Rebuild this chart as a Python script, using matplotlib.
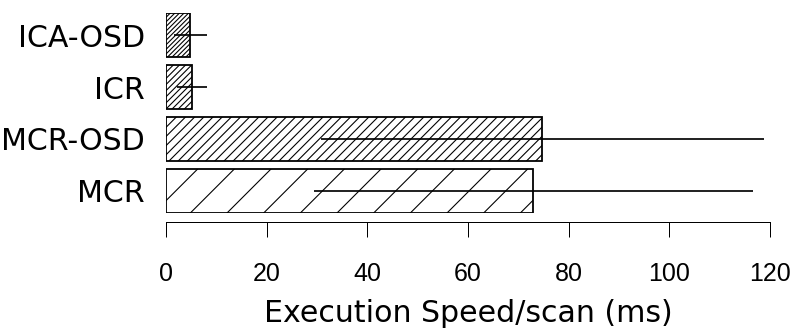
import matplotlib
matplotlib.use('Agg')
import matplotlib.pyplot as plt

# Data (bottom to top)
methods = ['MCR', 'MCR-OSD', 'ICR', 'ICA-OSD']
speed = [73.0, 74.8, 5.2, 4.8]
speed_err = [43.6, 44.0, 3.0, 3.3]
hatches = ['/', '////', '//////', '////////']
ticks = [0, 20, 40, 60, 80, 100, 120]

# dpi chosen so that a single '/' hatch is as sparse as in the original
DPI = 110


def px(p):
    # pixels -> points
    return p * 72.0 / DPI


plt.rcParams['hatch.linewidth'] = px(1.1)
plt.rcParams['font.family'] = 'DejaVu Sans'

fig = plt.figure(figsize=(797 / DPI, 330 / DPI), dpi=DPI)
ax = fig.add_axes([166 / 797, 1 - 213 / 330, (770 - 166) / 797, 200 / 330])

ypos = list(range(len(methods)))
for y, v, e, h in zip(ypos, speed, speed_err, hatches):
    ax.barh(y, v, height=0.85, color='white', edgecolor='black',
            linewidth=px(1.8), hatch=h, zorder=2)
    ax.errorbar(v, y, xerr=e, fmt='none', ecolor='black',
                elinewidth=px(1.7), capsize=0, zorder=3)

ax.set_xlim(0, 120)
ax.set_ylim(-0.425, 3.425)
ax.set_yticks(ypos)
ax.set_yticklabels(methods)
ax.set_xticks(ticks)
ax.set_xticklabels([str(t) for t in ticks])

ax.tick_params(axis='y', length=0, pad=px(21), labelsize=px(30))
ax.tick_params(axis='x', length=px(15), width=px(1), pad=px(25), direction='out',
               labelsize=px(25), labelfontfamily='Liberation Sans')

for s in ['top', 'right', 'left']:
    ax.spines[s].set_visible(False)
ax.spines['bottom'].set_position(('outward', px(9)))
ax.spines['bottom'].set_linewidth(px(1))

ax.set_xlabel('Execution Speed/scan (ms)', fontsize=px(30), labelpad=px(13))

fig.savefig('out.png', dpi=DPI)
